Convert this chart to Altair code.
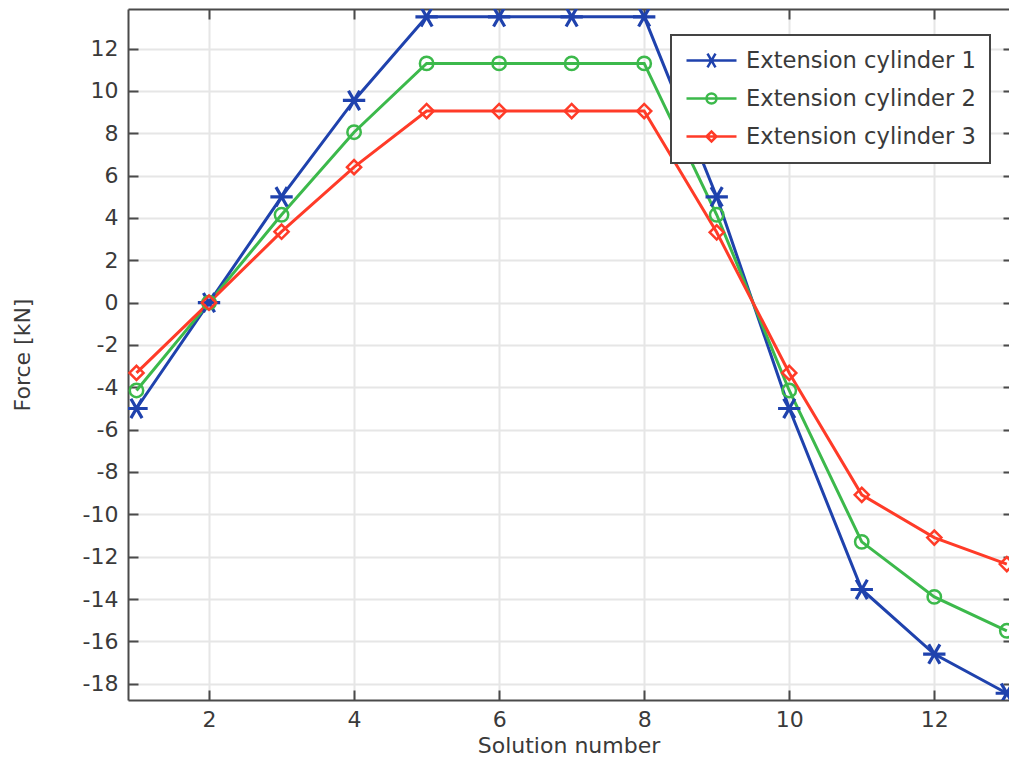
import altair as alt
import pandas as pd

# ---- data ----
names = ["Extension cylinder 1", "Extension cylinder 2", "Extension cylinder 3"]
solution = [1, 2, 3, 4, 5, 6, 7, 8, 9, 10, 11, 12, 13]
cyl1 = [-5.0, 0.0, 5.0, 9.55, 13.5, 13.5, 13.5, 13.5, 5.0, -5.0, -13.55, -16.6, -18.45]
cyl2 = [-4.15, 0.0, 4.15, 8.05, 11.3, 11.3, 11.3, 11.3, 4.15, -4.15, -11.3, -13.9, -15.5]
cyl3 = [-3.32, 0.0, 3.35, 6.4, 9.05, 9.05, 9.05, 9.05, 3.32, -3.32, -9.08, -11.1, -12.35]
x_ticks = [2, 4, 6, 8, 10, 12]
y_ticks = [-18, -16, -14, -12, -10, -8, -6, -4, -2, 0, 2, 4, 6, 8, 10, 12]
colors = ["#1f42ad", "#3cb94b", "#ff3b28"]

rows = []
for name, vals in zip(names, [cyl1, cyl2, cyl3]):
    for s, v in zip(solution, vals):
        rows.append({"x": s, "y": v, "series": name})
df = pd.DataFrame(rows)

FONT = "DejaVu Sans"
TXT = "#3a3a3a"
AX = "#4a4a4a"

xs = alt.Scale(domain=[0.883, 13.03], nice=False, zero=False)
ys = alt.Scale(domain=[-18.77, 13.87], nice=False, zero=False)
cs = alt.Scale(domain=names, range=colors)

# marker paths (unit coordinates)
asterisk = "M-1,0L1,0M-0.5,-0.866L0.5,0.866M-0.5,0.866L0.5,-0.866"
leg_line = "M-2.5,0L2.5,0"
leg_paths = [
    leg_line + "M-0.8,0L0.8,0M-0.4,-0.69L0.4,0.69M-0.4,0.69L0.4,-0.69",
    leg_line + "M0.5,0A0.5,0.5 0 1,1 -0.5,0A0.5,0.5 0 1,1 0.5,0",
    leg_line + "M-0.5,0L0,-0.5L0.5,0L0,0.5Z",
]

legend = alt.Legend(
    title=None, orient="none", legendX=543, legendY=26,
    symbolSize=400, symbolOffset=15, labelOffset=23,
    padding=14, rowPadding=14, labelLimit=500,
    labelFontSize=22.6, labelFont=FONT, labelColor=TXT,
    strokeColor="#444444", fillColor="white",
    symbolStrokeWidth=2.5,
)

num_label = "'' + datum.value"

x_bottom = alt.Axis(
    values=x_ticks, title="Solution number", grid=True,
    tickSize={"expr": "-10"}, labelPadding=19, labelExpr=num_label,
    titleX=440.5, titleY=45, titleBaseline="middle", titleAlign="center",
)
y_left = alt.Axis(
    values=y_ticks, title="Force [kN]", grid=True,
    tickSize={"expr": "-10"}, labelPadding=20, labelExpr=num_label,
    titleX=-106, titleY=345.5, titleBaseline="middle", titleAlign="center", titleAngle=270,
)

X = alt.X("x:Q", scale=xs, axis=x_bottom)
Y = alt.Y("y:Q", scale=ys, axis=y_left)
C = alt.Color("series:N", scale=cs, legend=legend)

base = alt.Chart(df)

lines = base.mark_line(strokeWidth=3, clip=True).encode(x=X, y=Y, color=C)

pts1 = base.transform_filter(alt.datum.series == names[0]).mark_point(
    shape=asterisk, size=500, filled=False, strokeWidth=3.2, opacity=1, clip=True
).encode(x=X, y=Y, color=C)
pts2 = base.transform_filter(alt.datum.series == names[1]).mark_point(
    shape="circle", size=180, filled=False, strokeWidth=2.5, opacity=1, clip=True
).encode(x=X, y=Y, color=C)
pts3 = base.transform_filter(alt.datum.series == names[2]).mark_point(
    shape="diamond", size=200, filled=False, strokeWidth=2.5, opacity=1, clip=True
).encode(x=X, y=Y, color=C)

legend_layer = base.transform_filter("datum.y > 1000").mark_point(
    filled=False, size=400, strokeWidth=2.5, opacity=1
).encode(
    x=X, y=Y, color=C,
    shape=alt.Shape("series:N", scale=alt.Scale(domain=names, range=leg_paths), legend=legend),
)

inner = alt.layer(lines, pts1, pts2, pts3, legend_layer)

mirror = base.mark_point(opacity=0).encode(
    x=alt.X("x:Q", scale=xs, axis=alt.Axis(
        orient="top", values=x_ticks, labels=False, grid=False, title=None,
        tickSize={"expr": "-10"}, domain=True)),
    y=alt.Y("y:Q", scale=ys, axis=alt.Axis(
        orient="right", values=y_ticks, labels=False, grid=False, title=None,
        tickSize={"expr": "-6"}, domain=False)),
)

chart = alt.layer(inner, mirror).resolve_scale(x="independent", y="independent").properties(
    width=881, height=691,
    autosize=alt.AutoSizeParams(type="none"),
    padding={"left": 128, "top": 9, "right": 0, "bottom": 58},
    background="white",
).configure_view(stroke=None).configure_axis(
    labelFont=FONT, labelFontSize=22, labelColor=TXT,
    titleFont=FONT, titleFontSize=22, titleColor=TXT, titleFontWeight="normal",
    domainColor=AX, domainWidth=2, tickColor=AX, tickWidth=2,
    gridColor="#e6e6e6", gridWidth=2,
).configure_legend(strokeWidth=2)

chart.save("out.html", embed_options={"renderer": "svg", "actions": False})
